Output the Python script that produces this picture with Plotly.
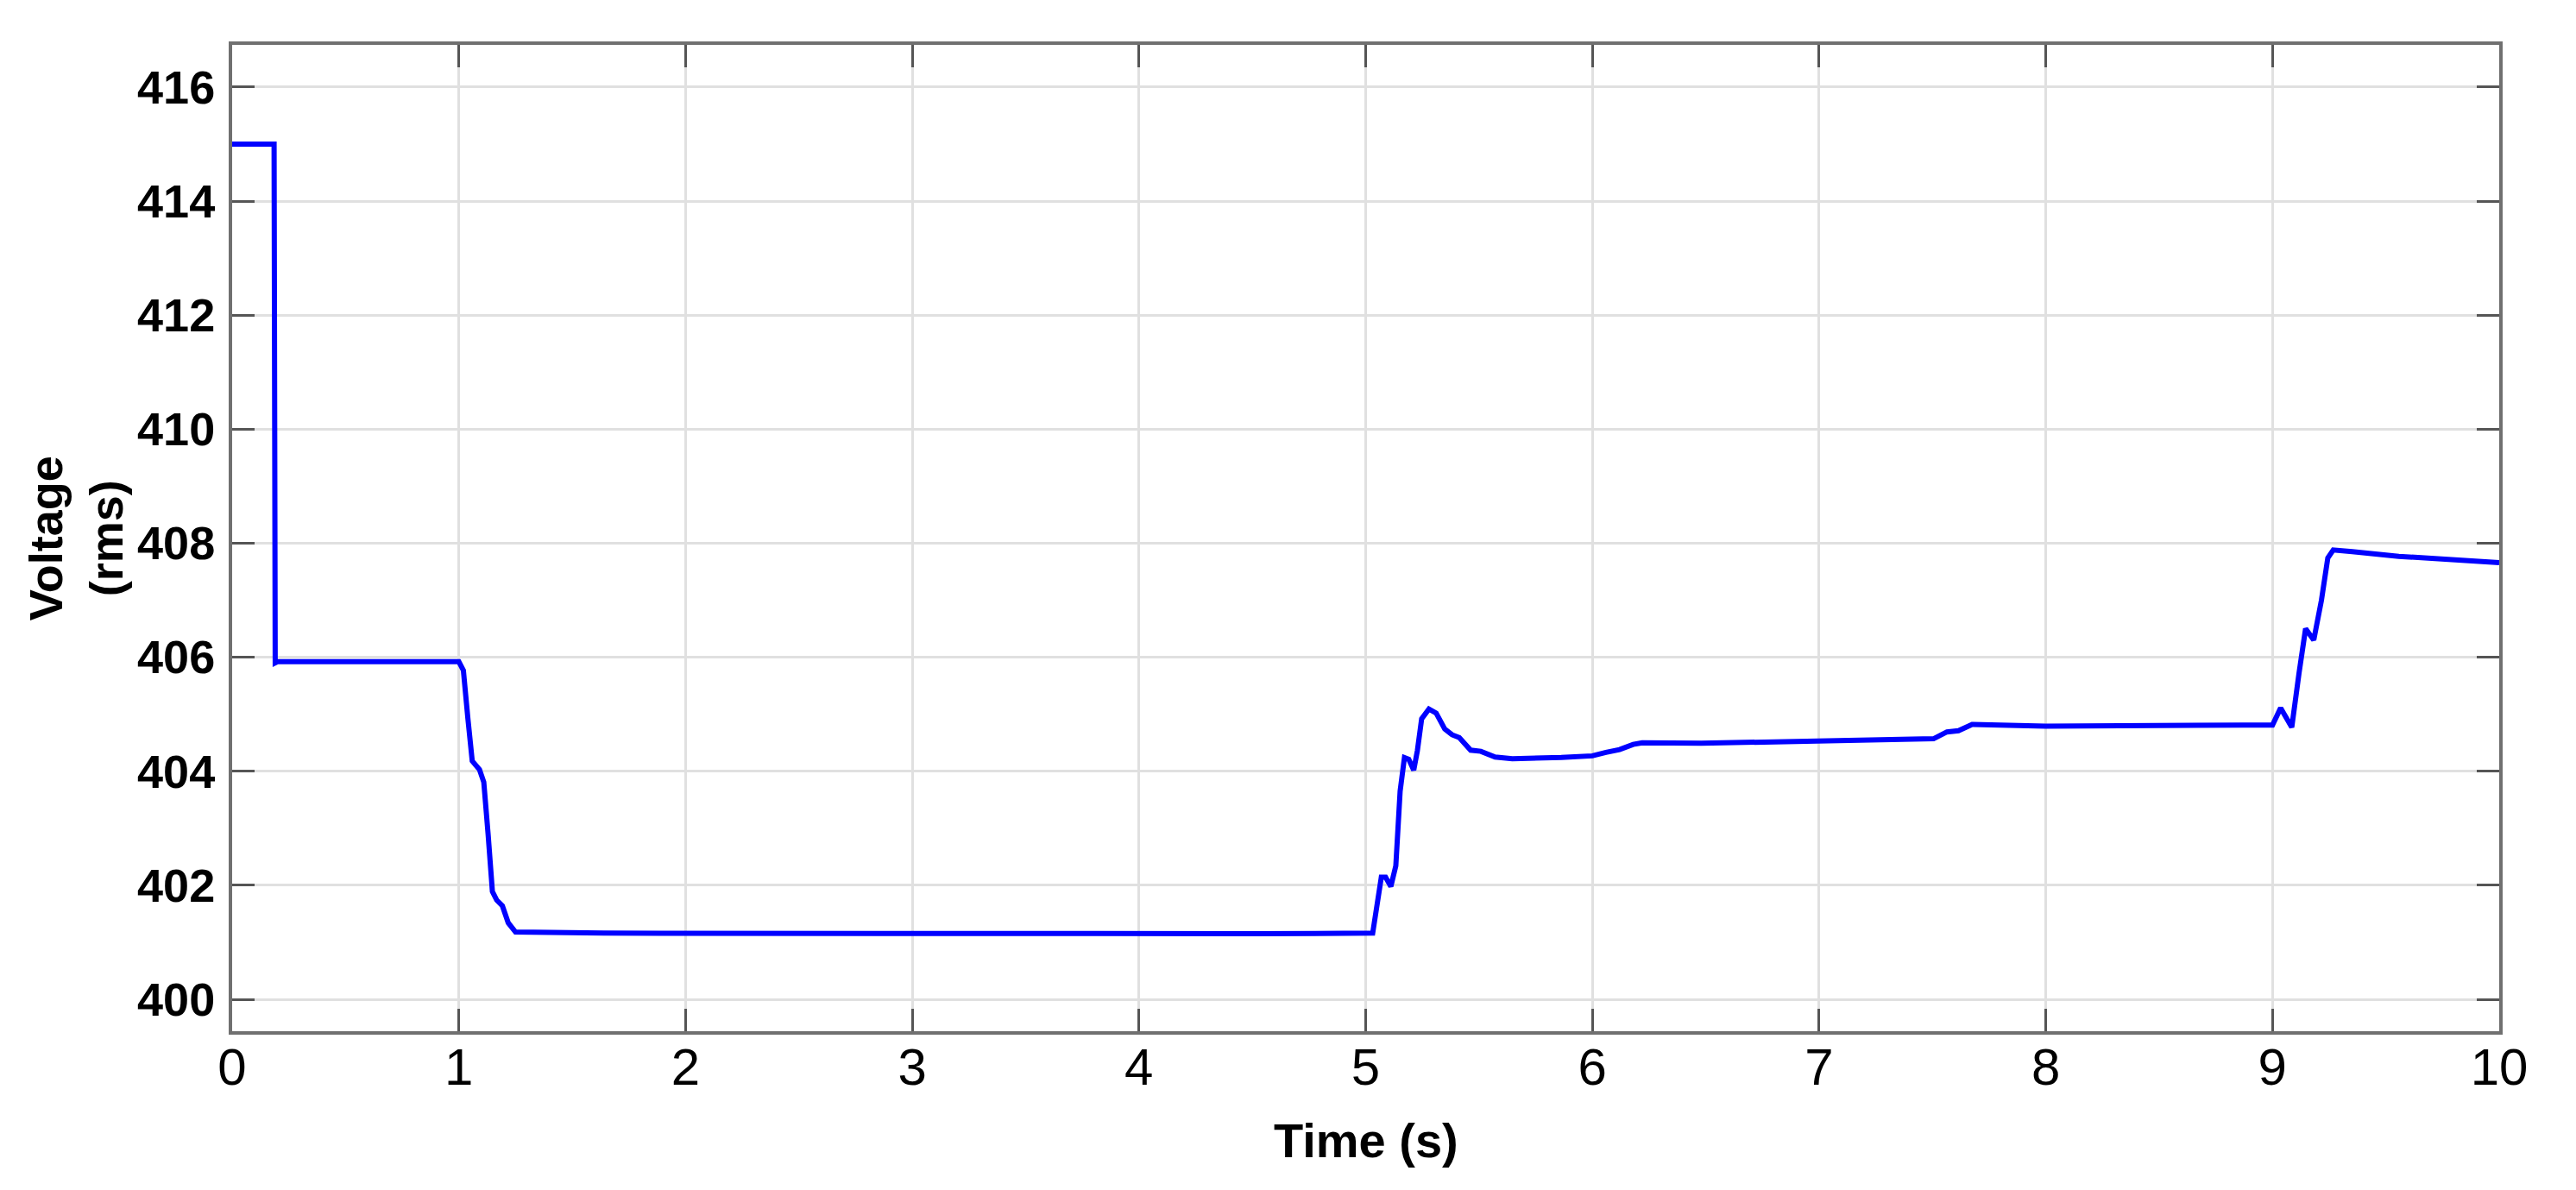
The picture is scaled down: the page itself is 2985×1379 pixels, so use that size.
import plotly.graph_objects as go

# RMS voltage trace
time_s = [0, 0.185, 0.19, 0.2, 1.0, 1.02, 1.04, 1.059, 1.091, 1.11, 1.129, 1.148,
          1.167, 1.192, 1.218, 1.25, 1.64, 3.0, 4.5, 5.031, 5.05, 5.069, 5.088,
          5.111, 5.133, 5.152, 5.171, 5.19, 5.212, 5.228, 5.247, 5.279, 5.311,
          5.349, 5.381, 5.413, 5.463, 5.508, 5.571, 5.647, 5.863, 6.0, 6.06, 6.12,
          6.18, 6.22, 6.48, 6.99, 7.505, 7.564, 7.615, 7.675, 7.904, 8.0, 8.87,
          9.0, 9.036, 9.085, 9.117, 9.146, 9.182, 9.216, 9.244, 9.268, 9.352,
          9.479, 9.557, 10.0]
voltage_rms = [415.0, 415.0, 405.9, 405.92, 405.92, 405.77, 404.92, 404.18, 404.03,
               403.81, 402.9, 401.89, 401.74, 401.64, 401.34, 401.18, 401.16, 401.15,
               401.15, 401.16, 401.64, 402.14, 402.14, 401.98, 402.34, 403.65, 404.24,
               404.21, 404.02, 404.36, 404.92, 405.09, 405.02, 404.74, 404.64, 404.59,
               404.37, 404.35, 404.25, 404.22, 404.24, 404.27, 404.33, 404.38, 404.47,
               404.5, 404.49, 404.54, 404.57, 404.69, 404.71, 404.82, 404.81, 404.79,
               404.81, 404.81, 405.11, 404.77, 405.72, 406.5, 406.3, 407.0, 407.74,
               407.88, 407.85, 407.79, 407.77, 407.66]

x_ticks = list(range(0, 11))
y_ticks = list(range(400, 417, 2))

FONT = "Liberation Sans Narrow, Arial Narrow, Liberation Sans, Arial, sans-serif"

fig = go.Figure()
fig.add_trace(go.Scatter(x=time_s, y=voltage_rms, mode="lines",
                         line=dict(color="#0000ff", width=6), showlegend=False))

axis_style = dict(
    showgrid=True, gridcolor="#e0e0e0", gridwidth=3,
    showline=True, linecolor="#707070", linewidth=4, mirror="ticks",
    ticks="inside", ticklen=26, tickwidth=3, tickcolor="#555555",
    zeroline=False,
)

fig.update_xaxes(range=[0, 10], tickvals=x_ticks, ticklabelstandoff=-14,
                 tickfont=dict(family=FONT, size=60, color="black"), **axis_style)
fig.update_yaxes(range=[399.44, 416.74], tickvals=y_ticks, ticklabelstandoff=5,
                 tickfont=dict(family=FONT, size=54, color="black", weight="bold"),
                 **axis_style)

fig.add_annotation(text="Time (s)", xref="paper", yref="paper", x=0.5, y=-0.111,
                   xanchor="center", yanchor="middle", showarrow=False,
                   font=dict(family=FONT, size=56, color="black", weight="bold"))
fig.add_annotation(text="Voltage<br>(rms)", xref="paper", yref="paper", x=-0.069, y=0.5,
                   xanchor="center", yanchor="middle", showarrow=False, textangle=-90,
                   font=dict(family=FONT, size=54, color="black", weight="bold"))

fig.update_layout(
    width=2985, height=1379,
    margin=dict(l=261, r=97, t=44, b=192),
    paper_bgcolor="white", plot_bgcolor="white",
)

fig.write_html("out.html")
